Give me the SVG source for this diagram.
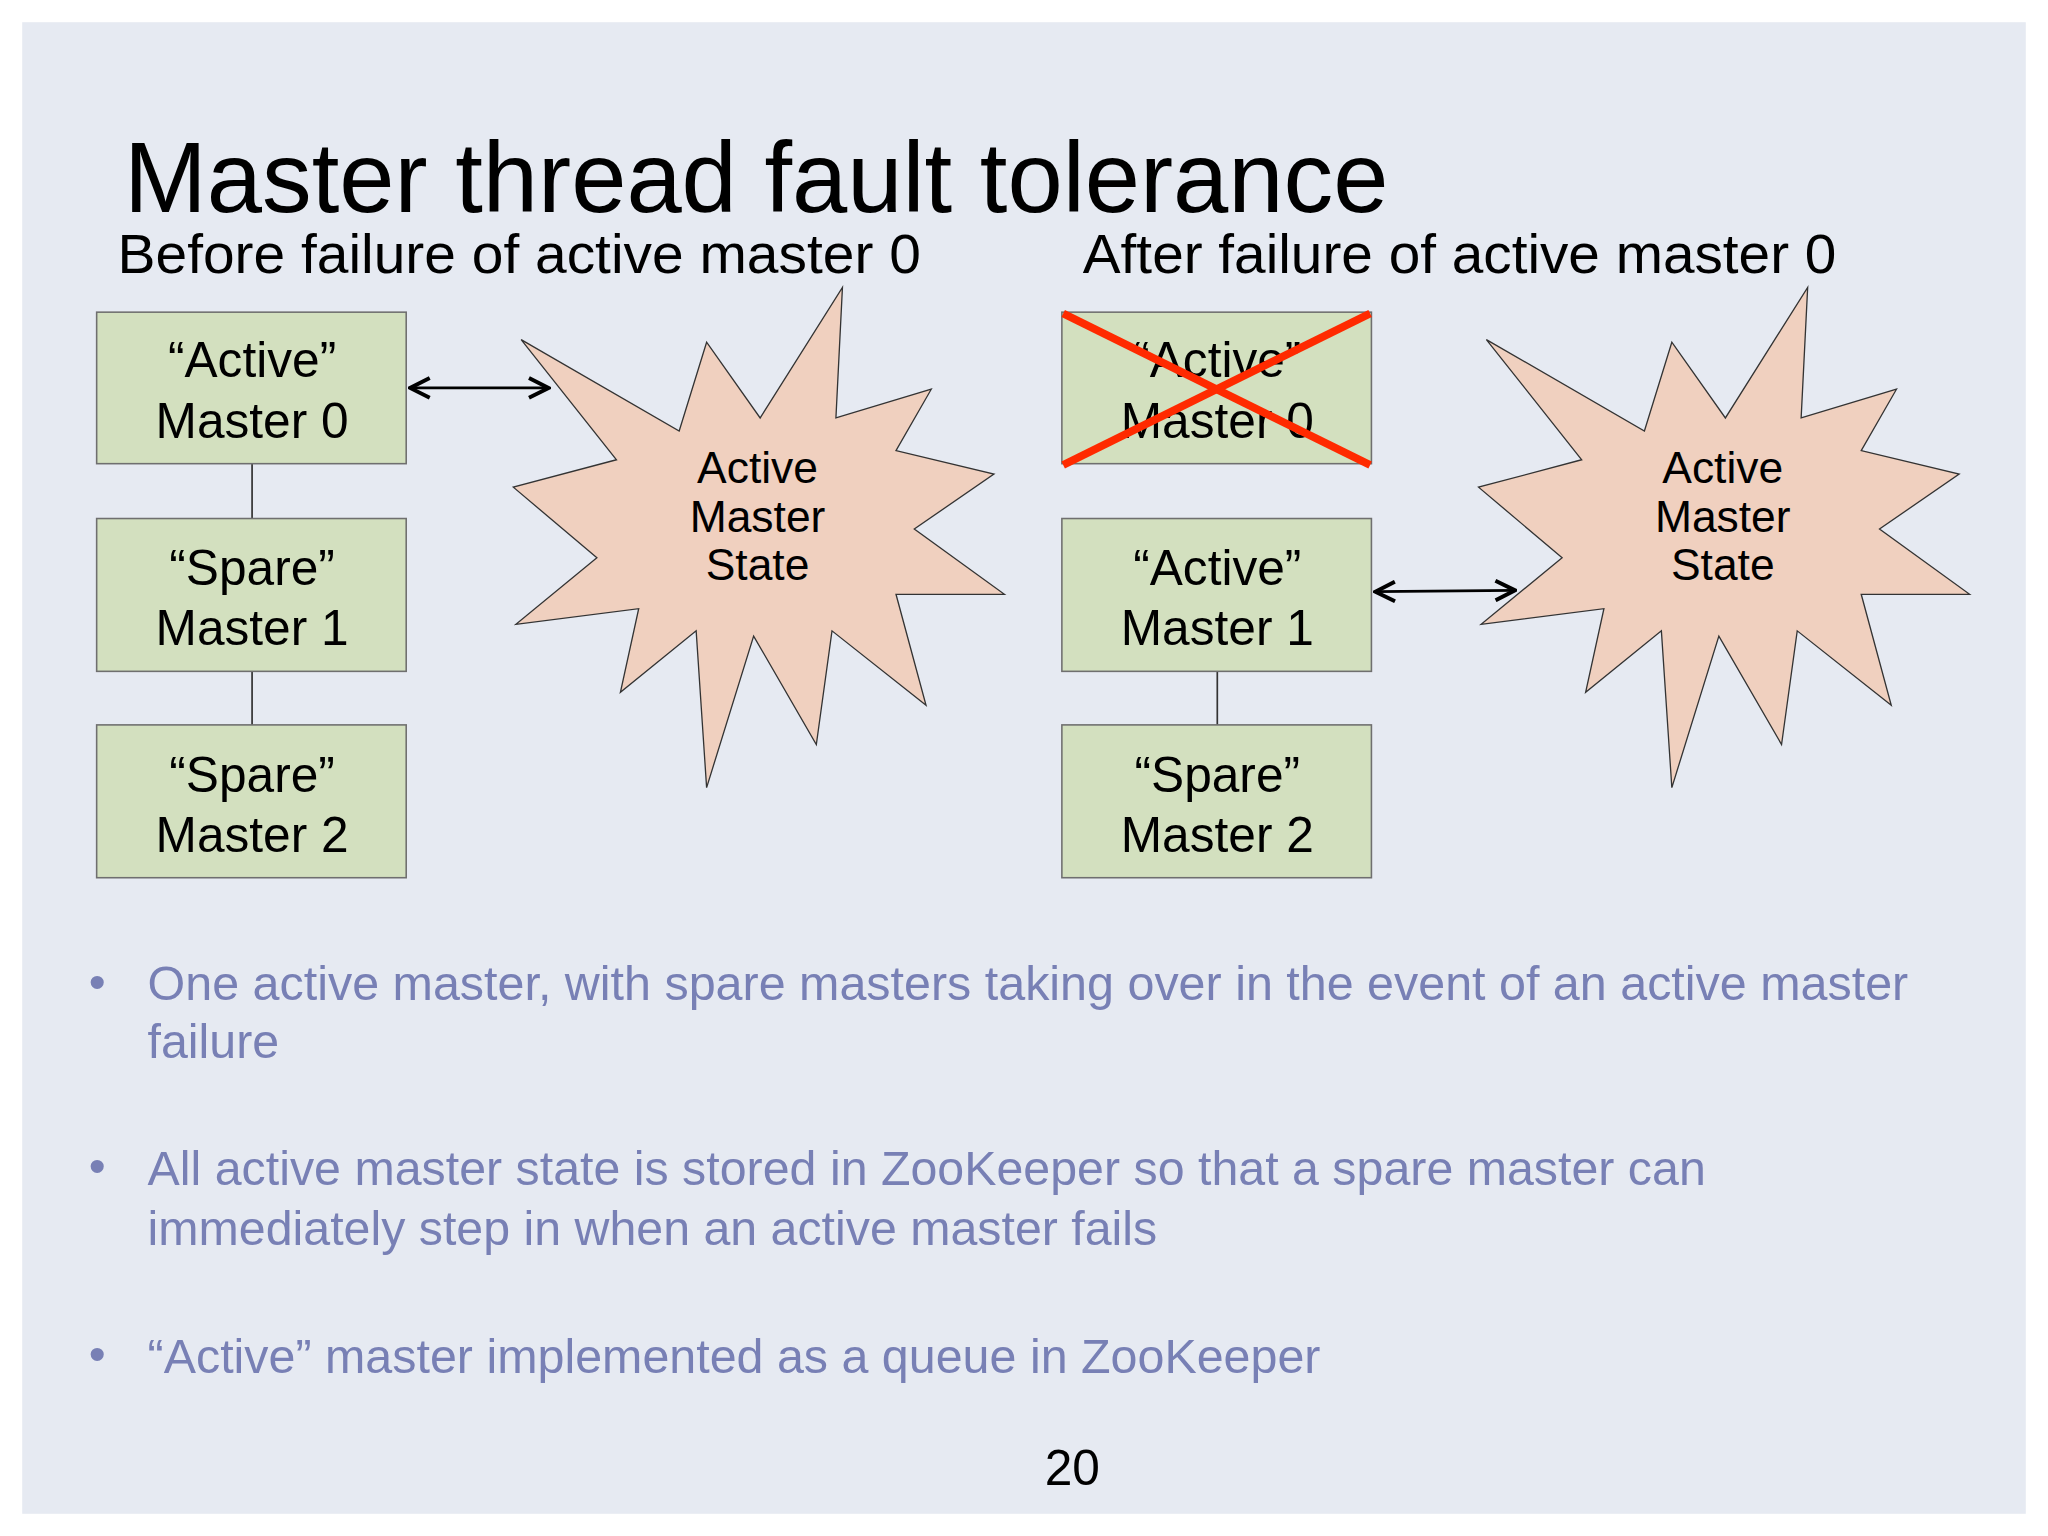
<svg xmlns="http://www.w3.org/2000/svg" width="2048" height="1536" viewBox="0 0 2048 1536">
<style>
text{font-family:"Liberation Sans",Arial,sans-serif}
.box{fill:#d3e0bf;stroke:#6f6f6f;stroke-width:1.2}
.bt{font-size:38px;fill:#000;text-anchor:middle}
.star{fill:#f0d0bf;stroke:#333;stroke-width:1}
.st{font-size:34px;fill:#000;text-anchor:middle}
.bl{font-size:37px;fill:#7880b5}
.ln{stroke:#333;stroke-width:1.3;fill:none}
</style>
<defs><marker id="ah" viewBox="0 0 12 12" refX="11" refY="6" markerWidth="18" markerHeight="18" markerUnits="userSpaceOnUse" orient="auto-start-reverse"><path d="M1,1 L11,6 L1,11" fill="none" stroke="#000" stroke-width="2"/></marker></defs>
<rect width="2048" height="1536" fill="#fff"/>
<g transform="scale(1.30612)">
<rect x="17" y="17" width="1534" height="1142" fill="#e6eaf2"/>
<text x="95" y="162" font-size="76" textLength="968" lengthAdjust="spacingAndGlyphs">Master thread fault tolerance</text>
<text x="90" y="209" font-size="42" textLength="615" lengthAdjust="spacingAndGlyphs">Before failure of active master 0</text>
<text x="829" y="209" font-size="42" textLength="577" lengthAdjust="spacingAndGlyphs">After failure of active master 0</text>
<g id="connectors">
<line class="ln" x1="193" y1="355" x2="193" y2="397"/>
<line class="ln" x1="193" y1="514" x2="193" y2="555"/>
<line class="ln" x1="932" y1="514" x2="932" y2="555"/>
<line x1="314" y1="297" x2="420" y2="297" stroke="#000" stroke-width="2" marker-start="url(#ah)" marker-end="url(#ah)"/>
<line x1="1053" y1="453" x2="1160" y2="452" stroke="#000" stroke-width="2" marker-start="url(#ah)" marker-end="url(#ah)"/>
</g>
<g id="l0"><rect class="box" x="74" y="239" width="237" height="116"/><text class="bt" x="193" y="289">“Active”</text><text class="bt" x="193" y="335">Master 0</text></g>
<g id="l1"><rect class="box" x="74" y="397" width="237" height="117"/><text class="bt" x="193" y="448">“Spare”</text><text class="bt" x="193" y="494">Master 1</text></g>
<g id="l2"><rect class="box" x="74" y="555" width="237" height="117"/><text class="bt" x="193" y="606">“Spare”</text><text class="bt" x="193" y="652">Master 2</text></g>
<g id="r0"><rect class="box" x="813" y="239" width="237" height="116"/><text class="bt" x="932" y="289">“Active”</text><text class="bt" x="932" y="335">Master 0</text>
<line x1="814" y1="240" x2="1049" y2="356" stroke="#ff2a00" stroke-width="6"/><line x1="814" y1="356" x2="1049" y2="240" stroke="#ff2a00" stroke-width="6"/></g>
<g id="r1"><rect class="box" x="813" y="397" width="237" height="117"/><text class="bt" x="932" y="448">“Active”</text><text class="bt" x="932" y="494">Master 1</text></g>
<g id="r2"><rect class="box" x="813" y="555" width="237" height="117"/><text class="bt" x="932" y="606">“Spare”</text><text class="bt" x="932" y="652">Master 2</text></g>
<g id="starL"><polygon class="star" points="645,220 640,320 713,298 686,345 761,363 700,405 769,455 686,455 709,540 637,483 625,570 577,487 541,603 533,483 475,530 489,466 395,478 457,427 393,373 472,352 399,260 520,330 541,262 582,320"/>
<text class="st" x="580" y="370">Active</text><text class="st" x="580" y="407">Master</text><text class="st" x="580" y="444">State</text></g>
<g id="starR" transform="translate(739,0)"><polygon class="star" points="645,220 640,320 713,298 686,345 761,363 700,405 769,455 686,455 709,540 637,483 625,570 577,487 541,603 533,483 475,530 489,466 395,478 457,427 393,373 472,352 399,260 520,330 541,262 582,320"/>
<text class="st" x="580" y="370">Active</text><text class="st" x="580" y="407">Master</text><text class="st" x="580" y="444">State</text></g>
<g id="bullets">
<text class="bl" x="68" y="764">•</text><text class="bl" x="113" y="766" textLength="1348" lengthAdjust="spacingAndGlyphs">One active master, with spare masters taking over in the event of an active master</text><text class="bl" x="113" y="810">failure</text>
<text class="bl" x="68" y="905">•</text><text class="bl" x="113" y="907" textLength="1193" lengthAdjust="spacingAndGlyphs">All active master state is stored in ZooKeeper so that a spare master can</text><text class="bl" x="113" y="953" textLength="773" lengthAdjust="spacingAndGlyphs">immediately step in when an active master fails</text>
<text class="bl" x="68" y="1049">•</text><text class="bl" x="113" y="1051" textLength="898" lengthAdjust="spacingAndGlyphs">“Active” master implemented as a queue in ZooKeeper</text>
</g>
<text x="821" y="1137" font-size="38" text-anchor="middle">20</text>
</g>
</svg>
